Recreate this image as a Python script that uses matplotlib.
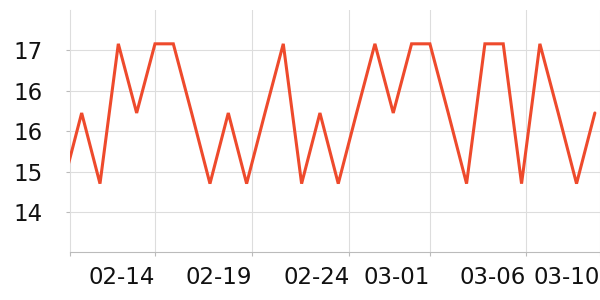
import matplotlib
matplotlib.use("Agg")
import matplotlib.pyplot as plt
from matplotlib.ticker import FixedLocator, FormatStrFormatter

# Daily series, 02-09 .. 03-10 (day offsets relative to 02-14)
days = list(range(-5, 25))
values = [14.56, 15.96, 14.56, 17.33, 15.96, 17.33, 17.33, 15.96, 14.56, 15.96,
          14.56, 15.96, 17.33, 14.56, 15.96, 14.56, 15.96, 17.33, 15.96, 17.33,
          17.33, 15.96, 14.56, 17.33, 17.33, 14.56, 17.33, 15.96, 14.56, 15.96]
tick_labels = ["02-14", "02-19", "02-24", "03-01", "03-06", "03-10"]
y_ticks = [14.0, 14.8, 15.6, 16.4, 17.2]

fig = plt.figure(figsize=(6, 3), dpi=100)
ax = fig.add_axes([70.3 / 600, (300 - 252.3) / 300, 1 - 70.3 / 600, (252.3 - 10) / 300])

ax.plot(days, values, color="#EE4A2C", linewidth=2.2, solid_joinstyle="miter",
        solid_capstyle="round", zorder=3, clip_on=True)

x_left, x_right = -4.62, 24.28
ax.set_xlim(x_left, x_right)
ax.set_ylim(13.2, 18.0)

tick_pos = [0, 5.31, 10.6, 15.0, 20.26, 24.28]
ax.xaxis.set_major_locator(FixedLocator(tick_pos))
ax.set_xticklabels(tick_labels, ha="right")
ax.xaxis.set_minor_locator(FixedLocator([x_left]))
ax.yaxis.set_major_locator(FixedLocator(y_ticks))
ax.yaxis.set_major_formatter(FormatStrFormatter("%.0f"))

ax.grid(True, which="major", color="#dddddd", linewidth=0.8)
ax.set_axisbelow(True)
for s in ["top", "right"]:
    ax.spines[s].set_visible(False)
ax.spines["left"].set_color("#dddddd")
ax.spines["left"].set_linewidth(0.8)
ax.spines["bottom"].set_color("#bbbbbb")
ax.spines["bottom"].set_linewidth(0.8)

ax.tick_params(axis="x", which="major", length=3, width=0.8, color="#bbbbbb",
               labelsize=16.5, pad=7, labelcolor="#111111")
ax.tick_params(axis="x", which="minor", length=3, width=0.8, color="#bbbbbb")
ax.tick_params(axis="y", length=3, width=0.8, color="#bbbbbb",
               labelsize=16.5, pad=17, labelcolor="#111111")

fig.savefig("out.png", dpi=100)
